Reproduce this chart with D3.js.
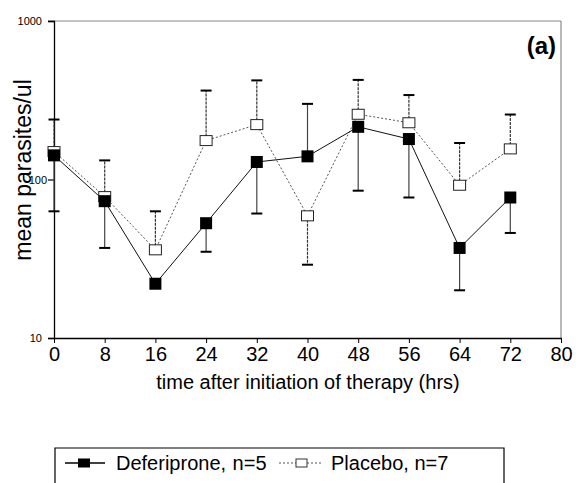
<!DOCTYPE html>
<html><head><meta charset="utf-8">
<script src="https://cdn.jsdelivr.net/npm/d3@7"></script>
<style>
html,body{margin:0;padding:0;background:#fff;}
svg{display:block;}
text{font-family:"Liberation Sans",Arial,Helvetica,sans-serif;fill:#000;}
</style></head>
<body>
<svg id="chart" width="576" height="483"></svg>
<script>
const times = [0, 8, 16, 24, 32, 40, 48, 56, 64, 72];
const deferiprone = [142, 73, 22, 53, 129, 140, 215, 180, 37, 77];
const placebo = [150, 78, 36, 176, 222, 59, 258, 228, 92, 156];
const defUpper = [null, null, null, null, null, 300, null, null, null, null];
const defLower = [63, 37, null, 35, 61, null, 85, 77, 20, 46];
const plaUpper = [239, 132, 63, 364, 422, null, 425, 341, 170, 257];
const plaLower = [null, null, null, null, null, 29, null, null, null, null];
const xTicks = [0, 8, 16, 24, 32, 40, 48, 56, 64, 72, 80];
const yTicks = [10, 100, 1000];
const seriesNames = ["Deferiprone, n=5", "Placebo, n=7"];

const svg = d3.select("#chart");
const L = 54, R = 561, T = 21, B = 338;
const x = d3.scaleLinear().domain([0, 80]).range([L, R]);
const y = d3.scaleLog().domain([10, 1000]).range([B, T]);

// frame (top and right, grey)
svg.append("line").attr("x1", L - 6).attr("x2", R).attr("y1", T).attr("y2", T)
  .attr("stroke", "#8a8a8a").attr("stroke-width", 1.2);
svg.append("line").attr("x1", R).attr("x2", R).attr("y1", T).attr("y2", B)
  .attr("stroke", "#8a8a8a").attr("stroke-width", 1.2);

// y axis
const yAxis = d3.axisLeft(y).tickValues(yTicks).tickSize(6).tickPadding(6)
  .tickFormat(d3.format("d"));
const gy = svg.append("g").attr("transform", `translate(${L},0)`).call(yAxis);
gy.select(".domain").attr("stroke", "#000").attr("stroke-width", 1.3);
gy.selectAll(".tick line").attr("stroke", "#000").attr("stroke-width", 1.2);
gy.selectAll(".tick text").style("font-size", "11px").attr("fill", "#000");
gy.selectAll(".tick text").filter(d => d === 100).attr("dx", 5);

// x axis
const xAxis = d3.axisBottom(x).tickValues(xTicks).tickSize(5).tickPadding(4)
  .tickSizeOuter(0);
const gx = svg.append("g").attr("transform", `translate(0,${B})`).call(xAxis);
gx.select(".domain").attr("stroke", "#000").attr("stroke-width", 1.3);
gx.selectAll(".tick line").attr("stroke", "#000").attr("stroke-width", 1);
gx.selectAll(".tick text").style("font-size", "20px").attr("fill", "#000");

// titles
svg.append("text").attr("x", 308).attr("y", 389).attr("text-anchor", "middle")
  .style("font-size", "20px").text("time after initiation of therapy (hrs)");
svg.append("text").attr("transform", "translate(31,170) rotate(-90)")
  .attr("text-anchor", "middle").style("font-size", "23px").text("mean parasites/ul");
svg.append("text").attr("x", 556).attr("y", 54).attr("text-anchor", "end")
  .style("font-size", "24px").style("font-weight", "bold").text("(a)");

// lines
const line = d3.line().x((d, i) => x(times[i])).y(d => y(d));
svg.append("path").datum(placebo).attr("d", line).attr("fill", "none")
  .attr("stroke", "#555").attr("stroke-width", 1).attr("stroke-dasharray", "2,2");
svg.append("path").datum(deferiprone).attr("d", line).attr("fill", "none")
  .attr("stroke", "#111").attr("stroke-width", 1);

// error bars
function errBars(vals, ends, dashed) {
  const g = svg.append("g");
  times.forEach((t, i) => {
    if (ends[i] == null) return;
    const cx = x(t);
    g.append("line").attr("x1", cx).attr("x2", cx)
      .attr("y1", y(vals[i])).attr("y2", y(ends[i]))
      .attr("stroke", dashed ? "#333" : "#444").attr("stroke-width", 1.2)
      .attr("stroke-dasharray", dashed ? "3,1" : null);
    g.append("line").attr("x1", cx - 5.5).attr("x2", cx + 5.5)
      .attr("y1", y(ends[i])).attr("y2", y(ends[i]))
      .attr("stroke", "#000").attr("stroke-width", 2);
  });
}
errBars(deferiprone, defUpper, false);
errBars(deferiprone, defLower, false);
errBars(placebo, plaUpper, true);
errBars(placebo, plaLower, true);

// markers
svg.append("g").selectAll("rect").data(placebo).join("rect")
  .attr("x", (d, i) => x(times[i]) - 6).attr("y", d => y(d) - 5)
  .attr("width", 12).attr("height", 10)
  .attr("fill", "#fff").attr("stroke", "#222").attr("stroke-width", 1);
svg.append("g").selectAll("rect").data(deferiprone).join("rect")
  .attr("x", (d, i) => x(times[i]) - 6).attr("y", d => y(d) - 6)
  .attr("width", 12).attr("height", 12).attr("fill", "#000");

// legend
svg.append("path").attr("d", "M55,490 V448 H504 V490")
  .attr("fill", "none").attr("stroke", "#000").attr("stroke-width", 1.2);
const ly = 463;
svg.append("line").attr("x1", 65).attr("x2", 105).attr("y1", ly).attr("y2", ly)
  .attr("stroke", "#000").attr("stroke-width", 1.5);
svg.append("rect").attr("x", 78).attr("y", ly - 4.5).attr("width", 12).attr("height", 9).attr("fill", "#000");
svg.append("text").attr("x", 116).attr("y", ly + 7).style("font-size", "20px")
  .style("word-spacing", "1px").text(seriesNames[0]);
svg.append("line").attr("x1", 279).attr("x2", 323).attr("y1", ly).attr("y2", ly)
  .attr("stroke", "#555").attr("stroke-width", 1).attr("stroke-dasharray", "2,2");
svg.append("rect").attr("x", 296).attr("y", ly - 4).attr("width", 11).attr("height", 8)
  .attr("fill", "#fff").attr("stroke", "#333").attr("stroke-width", 1);
svg.append("text").attr("x", 331).attr("y", ly + 7).style("font-size", "20px").text(seriesNames[1]);
</script>
</body></html>
